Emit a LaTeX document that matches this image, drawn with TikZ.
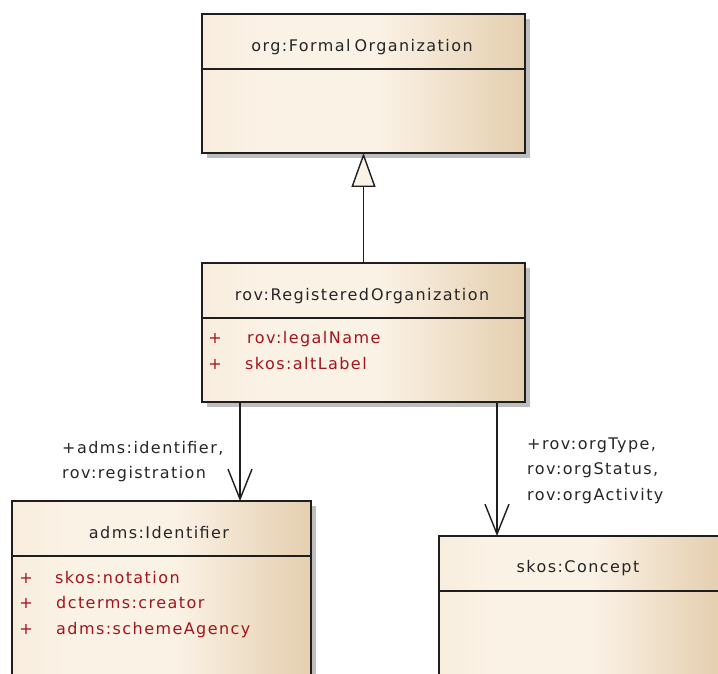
\documentclass[tikz,border=0pt]{standalone}
\usepackage{fontspec}
\setmainfont{DejaVu Sans}[LetterSpace=9]
\usetikzlibrary{arrows.meta,calc,shadows}

% class box colours
\definecolor{clsEdge}{HTML}{F8EDDD}
\definecolor{clsLight}{HTML}{FBF2E6}
\definecolor{clsDark}{HTML}{E4CFAF}
\definecolor{attrRed}{HTML}{A3141C}
\definecolor{lineGray}{HTML}{1E1E1E}
\definecolor{shadowGray}{HTML}{BEBEBE}

% light on the left, tan towards the right edge (25bp..75bp spans the box)
\pgfdeclarehorizontalshading{classfill}{100bp}{%
  color(0bp)=(clsEdge); color(25bp)=(clsEdge); color(35bp)=(clsLight);
  color(52bp)=(clsLight); color(75bp)=(clsDark); color(100bp)=(clsDark)}

\tikzset{
  txt/.style={font=\fontsize{16}{19}\selectfont, inner sep=0pt},
  classbox/.style={draw=lineGray, line width=1.6pt, shading=classfill,
    rectangle, inner sep=0pt, outer sep=0pt,
    general shadow={fill=shadowGray, draw=none, shadow xshift=5pt, shadow yshift=-5pt}},
  divider/.style={draw=lineGray, line width=1.4pt},
  title/.style={txt, anchor=base, text=black!85},
  attr/.style={txt, anchor=base west, text=attrRed},
  vis/.style={txt, anchor=base, text=attrRed},
  rolelabel/.style={txt, anchor=base west, text=black!85},
  generalization/.style={draw=lineGray, line width=1.6pt,
    -{Triangle[open, length=34pt, width=24pt, fill=clsLight, line width=1.4pt]}},
  association/.style={draw=lineGray, line width=1.6pt,
    -{Straight Barb[length=30pt, width=24pt, line width=1.4pt]}}
}

\begin{document}
\begin{tikzpicture}[x=1pt, y=-1pt]
  \useasboundingbox (0,0) rectangle (718,674);
  \clip (0,0) rectangle (718,674);

  % --- class boxes ---
  \node[classbox, minimum width=323pt, minimum height=139pt] (formal) at (363.5,83.5) {};
  \node[classbox, minimum width=323pt, minimum height=139pt] (regorg) at (363.5,332.5) {};
  \node[classbox, minimum width=299pt, minimum height=200pt] (ident)  at (161.5,601) {};
  \node[classbox, minimum width=281pt, minimum height=180pt] (concept) at (579.5,626) {};

  % compartment lines under the class names
  \foreach \c in {formal,regorg,ident,concept}
    \draw[divider] ($(\c.north west)+(0,55)$) -- ($(\c.north east)+(0,55)$);

  % --- class names ---
  \node[title] (formalName)  at (362,52)  {org:Formal\kern4pt Organization};
  \node[title] (regorgName)  at (362,300) {rov:Registered\kern2pt Organization};
  \node[title] (identName)   at (159,538) {adms:Identifier};
  \node[title] (conceptName) at (578,572) {skos:Concept};

  % --- attributes ---
  \node[vis]  (rv1) at (215,343) {+};
  \node[attr] (ra1) at (247,343) {rov:legalName};
  \node[vis]  (rv2) at (215,369) {+};
  \node[attr] (ra2) at (245,369) {skos:altLabel};

  \node[vis]  (iv1) at (26,583) {+};
  \node[attr] (ia1) at (55,583) {skos:notation};
  \node[vis]  (iv2) at (26,608) {+};
  \node[attr] (ia2) at (56,608) {dcterms:creator};
  \node[vis]  (iv3) at (26,634) {+};
  \node[attr] (ia3) at (56,634) {adms:schemeAgency};

  % --- connectors ---
  \draw[generalization] (regorg.north) -- (formal.south);
  \draw[association] ([xshift=38pt]regorg.south west)
    -- ([xshift=38pt]regorg.south west |- ident.north);
  \draw[association] ([xshift=-28pt]regorg.south east)
    -- ([xshift=-28pt]regorg.south east |- concept.north);

  % --- association end labels ---
  \node[rolelabel] (idLbl1) at (62,453) {+adms:identifier,};
  \node[rolelabel] (idLbl2) at (62,478) {rov:registration};
  \node[rolelabel] (coLbl1) at (527,449) {+rov:orgType,};
  \node[rolelabel] (coLbl2) at (527,474) {rov:orgStatus,};
  \node[rolelabel] (coLbl3) at (527,500) {rov:orgActivity};
\end{tikzpicture}
\end{document}
